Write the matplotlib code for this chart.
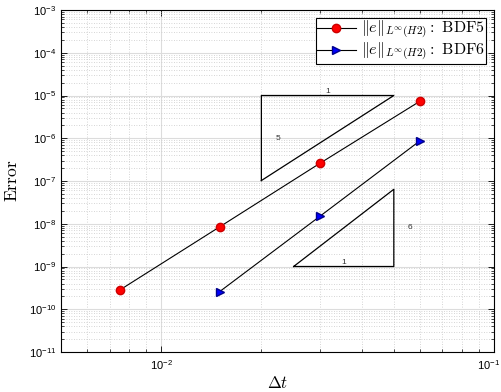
import matplotlib
matplotlib.use("Agg")
import matplotlib.pyplot as plt
import matplotlib.transforms as mtransforms
from matplotlib.ticker import LogLocator, NullFormatter

# convergence data
dt_bdf5 = [0.06, 0.03, 0.015, 0.0075]
err_bdf5 = [7.4e-6, 2.6e-7, 8.5e-9, 2.8e-10]
dt_bdf6 = [0.06, 0.03, 0.015]
err_bdf6 = [8.8e-7, 1.5e-8, 2.6e-10]

# slope triangles: (x0, x1, y anchor, slope)
tri5 = (0.02, 0.05, 1e-5, 5)
tri6 = (0.025, 0.05, 1e-9, 6)

plt.rcParams["mathtext.fontset"] = "cm"
plt.rcParams["font.family"] = ["Liberation Sans", "DejaVu Sans"]

fig = plt.figure(figsize=(5.02, 3.92), dpi=100)
ax = fig.add_axes([61 / 502, 40 / 392, 433 / 502, 342 / 392])

ax.loglog(dt_bdf5, err_bdf5, "-o", color="k", lw=0.8, mfc="red", mec="#cc0000",
          ms=6, label=r"$\|e\|_{L^{\infty}(H2)}\mathrm{:\ BDF5}$")
ax.loglog(dt_bdf6, err_bdf6, "->", color="k", lw=0.8, mfc="blue", mec="#00008b",
          ms=6, label=r"$\|e\|_{L^{\infty}(H2)}\mathrm{:\ BDF6}$")

# slope 5 triangle
x0, x1, y1, s = tri5
y0 = y1 / (x1 / x0) ** s
ax.plot([x0, x1, x0, x0], [y0, y1, y1, y0], color="k", lw=0.9)
ax.text((x0 * x1) ** 0.5, y1 * 1.05, "1", fontsize=6, ha="center", va="bottom", color="#333333")
ax.text(x0 * 1.1, (y0 * y1) ** 0.5, "5", fontsize=6, ha="left", va="center", color="#333333")

# slope 6 triangle
x0, x1, y0, s = tri6
y1 = y0 * (x1 / x0) ** s
ax.plot([x0, x1, x1, x0], [y0, y0, y1, y0], color="k", lw=0.9)
ax.text((x0 * x1) ** 0.5, y0 * 1.05, "1", fontsize=6, ha="center", va="bottom", color="#333333")
ax.text(x1 * 1.1, (y0 * y1) ** 0.5, "6", fontsize=6, ha="left", va="center", color="#333333")

ax.set_xlim(5e-3, 1e-1)
ax.set_ylim(1e-11, 1e-3)
ax.yaxis.set_major_locator(LogLocator(base=10, numticks=20))
ax.yaxis.set_minor_locator(LogLocator(base=10, subs=range(2, 10), numticks=20))
ax.yaxis.set_minor_formatter(NullFormatter())
ax.xaxis.set_minor_formatter(NullFormatter())

ax.grid(True, which="major", color="#dcdcdc", lw=0.8, ls="-")
ax.grid(True, which="minor", color="#c8c8c8", lw=0.6, ls=(0, (1, 2)))
ax.set_axisbelow(True)

ax.tick_params(which="both", direction="in", top=True, right=True, labelsize=8)
ax.tick_params(which="major", length=4, width=0.6)
ax.tick_params(which="minor", length=2.5, width=0.5)
ax.tick_params(axis="x", which="major", pad=4.5)
for sp in ax.spines.values():
    sp.set_linewidth(0.8)

ax.set_xlabel(r"$\Delta t$", fontsize=12, labelpad=2)
ax.set_ylabel(r"$\mathrm{Error}$", fontsize=12.5, labelpad=6)

leg = ax.legend(loc="upper right", fontsize=11.5, frameon=True, fancybox=False,
                edgecolor="k", framealpha=1, handlelength=2.5, borderpad=0.05,
                labelspacing=0.0, handletextpad=0.3, borderaxespad=0.5)
leg.get_frame().set_linewidth(0.8)

# keep the right-most x tick label inside the canvas
fig.canvas.draw()
shift = mtransforms.ScaledTranslation(-5 / 100, 0, fig.dpi_scale_trans)
for tick in ax.xaxis.get_major_ticks():
    if abs(tick.get_loc() - 1e-1) < 1e-9:
        tick.label1.set_transform(tick.label1.get_transform() + shift)

fig.savefig("out.png", dpi=100)
